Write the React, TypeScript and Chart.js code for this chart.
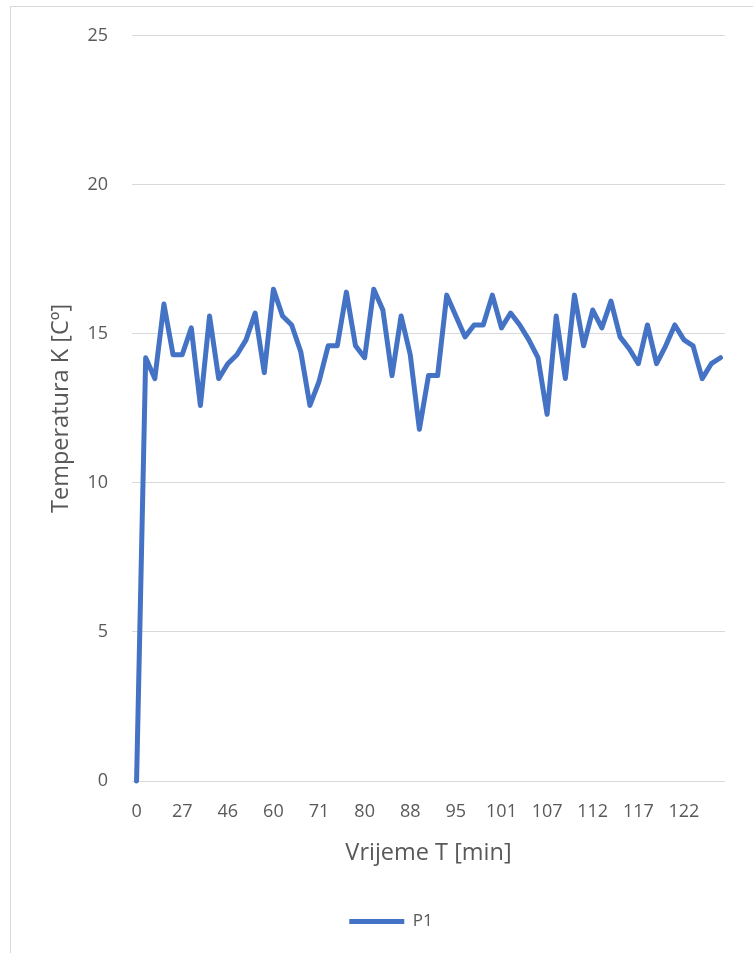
import React, { useEffect, useRef } from "react";
import { Chart, registerables } from "chart.js";

Chart.register(...registerables);

const CATEGORIES: number[] = [
  0, 5, 11, 16, 22, 27, 31, 35, 39, 43, 46, 49, 52, 55, 58, 60, 62, 64, 66, 69,
  71, 73, 75, 77, 78, 80, 82, 83, 85, 86, 88, 89, 91, 92, 94, 95, 96, 97, 98, 100,
  101, 102, 103, 104, 106, 107, 108, 109, 110, 111, 112, 113, 114, 115, 116, 117,
  118, 119, 120, 121, 122, 123, 124, 125, 126,
];

const P1_VALUES: number[] = [
  0, 14.2, 13.5, 16.0, 14.3, 14.3, 15.2, 12.6, 15.6, 13.5, 14.0, 14.3, 14.8, 15.7,
  13.7, 16.5, 15.6, 15.3, 14.4, 12.6, 13.4, 14.6, 14.6, 16.4, 14.6, 14.2, 16.5,
  15.8, 13.6, 15.6, 14.3, 11.8, 13.6, 13.6, 16.3, 15.6, 14.9, 15.3, 15.3, 16.3,
  15.2, 15.7, 15.3, 14.8, 14.2, 12.3, 15.6, 13.5, 16.3, 14.6, 15.8, 15.2, 16.1,
  14.9, 14.5, 14.0, 15.3, 14.0, 14.6, 15.3, 14.8, 14.6, 13.5, 14.0, 14.2,
];

const Y_MIN = 0;
const Y_MAX = 25;
const Y_STEP = 5;
const LABEL_EVERY = 5;

const SERIES_NAME = "P1";
const X_TITLE = "Vrijeme T [min]";
const Y_TITLE = "Temperatura K [Cº]";

const FONT = "'Open Sans', sans-serif";
const TEXT = "#595959";
const GRID = "#d9d9d9";
const BLUE = "#4472C4";

export default function App() {
  const ref = useRef<HTMLCanvasElement | null>(null);

  useEffect(() => {
    if (!ref.current) return;
    const chart = new Chart(ref.current, {
      type: "line",
      data: {
        labels: CATEGORIES.map(String),
        datasets: [
          {
            label: SERIES_NAME,
            data: P1_VALUES,
            borderColor: BLUE,
            backgroundColor: BLUE,
            borderWidth: 5,
            pointRadius: 0,
            pointHoverRadius: 0,
            tension: 0,
            borderJoinStyle: "round",
            borderCapStyle: "round",
            clip: false as any,
            pointStyle: "line",
          },
        ],
      },
      options: {
        responsive: false,
        animation: false,
        layout: { padding: { top: 10, right: 0, bottom: 19, left: 0 } },
        plugins: {
          tooltip: { enabled: false },
          legend: {
            position: "bottom",
            labels: {
              usePointStyle: true,
              pointStyleWidth: 55,
              padding: 12,
              color: TEXT,
              font: { family: FONT, size: 17 },
            },
          },
        },
        scales: {
          x: {
            type: "category",
            offset: true,
            grid: { display: false },
            border: { display: false },
            ticks: {
              autoSkip: false,
              maxRotation: 0,
              minRotation: 0,
              padding: 12,
              color: TEXT,
              font: { family: FONT, size: 18 },
              callback: (_v: any, i: number) =>
                i % LABEL_EVERY === 0 ? String(CATEGORIES[i]) : "",
            },
            title: {
              display: true,
              text: X_TITLE,
              color: TEXT,
              font: { family: FONT, size: 23.5 },
              padding: { top: 0, bottom: 33.5 },
            },
            afterFit: (s: any) => {
              s.height = 120;
            },
          },
          y: {
            min: Y_MIN,
            max: Y_MAX,
            grid: { color: GRID, lineWidth: 1, drawTicks: false },
            border: { display: false },
            ticks: {
              stepSize: Y_STEP,
              padding: 24,
              color: TEXT,
              font: { family: FONT, size: 18 },
            },
            title: {
              display: true,
              text: Y_TITLE,
              color: TEXT,
              font: { family: FONT, size: 23.5 },
              padding: { top: 36.5, bottom: 0 },
            },
            afterFit: (s: any) => {
              s.width = 121;
            },
          },
          yRight: {
            type: "linear",
            position: "right",
            display: true,
            grid: { display: false },
            border: { display: false },
            ticks: { display: false },
            afterFit: (s: any) => {
              s.width = 46;
            },
          },
        },
      },
    });
    return () => chart.destroy();
  }, []);

  return (
    <div
      style={{
        position: "fixed",
        left: 0,
        top: 0,
        width: 753,
        height: 953,
        overflow: "hidden",
        background: "#fff",
      }}
    >
      <div
        style={{
          position: "absolute",
          left: 10,
          top: 6,
          width: 762,
          height: 960,
          border: `1px solid ${GRID}`,
          boxSizing: "border-box",
        }}
      >
        <canvas
          ref={ref}
          width={760}
          height={958}
          style={{ position: "absolute", left: 0, top: -6, width: 760, height: 958 }}
        />
      </div>
    </div>
  );
}
